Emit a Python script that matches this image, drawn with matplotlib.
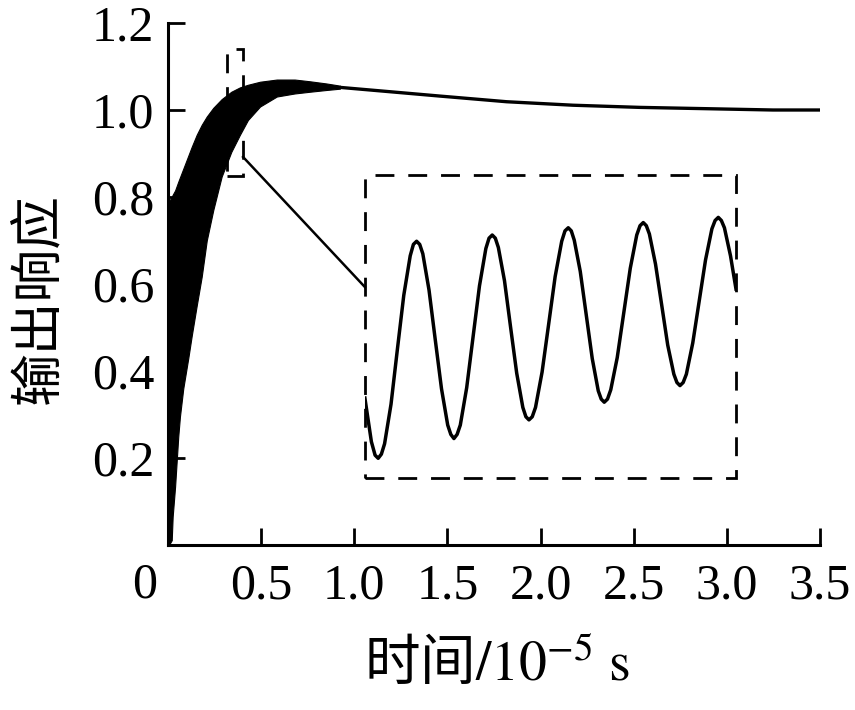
import matplotlib
matplotlib.use('Agg')
import matplotlib.pyplot as plt
from matplotlib.patches import Rectangle

# ---------------- data ----------------
# dense-oscillation band at the start of the response (envelopes)
band_t = [0.0, 0.005, 0.02, 0.025, 0.038, 0.055, 0.064, 0.082, 0.109, 0.127,
          0.154, 0.181, 0.208, 0.243, 0.288, 0.34, 0.386, 0.429, 0.494, 0.584,
          0.68, 0.762, 0.85, 0.923]
band_low = [0.0, 0.0, 0.011, 0.065, 0.134, 0.249, 0.295, 0.36, 0.43, 0.48,
            0.55, 0.617, 0.700, 0.770, 0.847, 0.904, 0.943, 0.977, 1.008, 1.031,
            1.038, 1.042, 1.046, 1.049]
band_high = [0.0, 0.79, 0.80, 0.805, 0.815, 0.835, 0.845, 0.865, 0.895, 0.915,
             0.943, 0.966, 0.985, 1.005, 1.025, 1.042, 1.052, 1.058, 1.065, 1.070,
             1.070, 1.066, 1.061, 1.056]
# smooth tail of the response
tail_t = [0.923, 1.192, 1.460, 1.818, 2.174, 2.534, 2.892, 3.247, 3.5]
tail_y = [1.052, 1.042, 1.032, 1.019, 1.011, 1.006, 1.003, 1.000, 1.000]

# zoomed region (small dashed box) and where its enlargement is drawn
zoom_t = [0.317, 0.403]
zoom_y = [0.848, 1.140]
inset_t = [1.057, 3.049]
inset_y = [0.154, 0.851]

# waveform seen inside the enlargement (in the zoomed units)
wave_t = [0.3170, 0.3185, 0.31936, 0.32008, 0.32082,
          0.32156, 0.32305, 0.32453, 0.32601, 0.32750, 0.32824, 0.32898, 0.32970,
          0.33042, 0.33186, 0.33331, 0.33475, 0.33619, 0.33691, 0.33763, 0.33837,
          0.33911, 0.34059, 0.34207, 0.34355, 0.34503, 0.34577, 0.34651, 0.34722,
          0.34793, 0.34935, 0.35077, 0.35218, 0.35360, 0.35431, 0.35502, 0.35578,
          0.35654, 0.35806, 0.35958, 0.36109, 0.36261, 0.36337, 0.36413, 0.36483,
          0.36552, 0.36691, 0.36830, 0.36969, 0.37108, 0.37177, 0.37247, 0.37322,
          0.37398, 0.37548, 0.37699, 0.37850, 0.38000, 0.38076, 0.38151, 0.38222,
          0.38293, 0.38435, 0.38577, 0.38718, 0.38860, 0.38931, 0.39002, 0.39076,
          0.39150, 0.39298, 0.39446, 0.39594, 0.39742, 0.39816, 0.39890, 0.39961,
          0.40032, 0.40173, 0.4030]
wave_y = [0.925, 0.883, 0.870, 0.867, 0.871,
          0.881, 0.919, 0.972, 1.024, 1.062, 1.073, 1.076, 1.073,
          1.064, 1.029, 0.981, 0.934, 0.899, 0.890, 0.886, 0.890,
          0.899, 0.935, 0.984, 1.033, 1.069, 1.079, 1.082, 1.079,
          1.070, 1.038, 0.993, 0.949, 0.916, 0.907, 0.904, 0.907,
          0.916, 0.950, 0.996, 1.042, 1.076, 1.086, 1.089, 1.086,
          1.077, 1.047, 1.005, 0.963, 0.932, 0.924, 0.921, 0.924,
          0.933, 0.964, 1.007, 1.050, 1.082, 1.091, 1.094, 1.091,
          1.083, 1.054, 1.015, 0.976, 0.948, 0.940, 0.937, 0.940,
          0.948, 0.978, 1.018, 1.058, 1.088, 1.096, 1.099, 1.096,
          1.089, 1.062, 1.030]

# connector from the small box to the enlargement
link_t = [0.403, 1.057]
link_y = [0.892, 0.593]

xticks = [0.5, 1.0, 1.5, 2.0, 2.5, 3.0, 3.5]
xtick_labels = ['0.5', '1.0', '1.5', '2.0', '2.5', '3.0', '3.5']
yticks = [0.2, 0.4, 0.6, 0.8, 1.0, 1.2]
ytick_labels = ['0.2', '0.4', '0.6', '0.8', '1.0', '1.2']
xlabel = '时间$/10^{-5}\\ \\mathrm{s}$'
ylabel = '输出响应'

# ---------------- figure ----------------
plt.rcParams['font.family'] = ['Liberation Serif', 'Noto Sans CJK SC', 'DejaVu Serif']
plt.rcParams['mathtext.fontset'] = 'stix'

fig = plt.figure(figsize=(8.55, 7.10), dpi=100)
ax = fig.add_axes([168/855, 1-545/710, 652/855, 522/710])

ax.fill_between(band_t, band_low, band_high, color='black', lw=0.8, edgecolor='black')
ax.plot(tail_t, tail_y, color='black', lw=2.4, solid_capstyle='butt')

dash = (0, (6.8, 5))
ax.add_patch(Rectangle((zoom_t[0], zoom_y[0]), zoom_t[1]-zoom_t[0], zoom_y[1]-zoom_y[0],
                       fill=False, edgecolor='black', lw=2.0, linestyle=dash))
ax.plot(link_t, link_y, color='black', lw=1.8)

axins = ax.inset_axes([inset_t[0], inset_y[0], inset_t[1]-inset_t[0], inset_y[1]-inset_y[0]],
                      transform=ax.transData)
axins.set_xlim(zoom_t)
axins.set_ylim(zoom_y)
axins.plot(wave_t, wave_y, color='black', lw=2.5, solid_joinstyle='round')
axins.set_xticks([])
axins.set_yticks([])
for s in axins.spines.values():
    s.set_visible(False)
axins.patch.set_alpha(0)
axins.add_patch(Rectangle((0, 0), 1, 1, transform=axins.transAxes, fill=False,
                          edgecolor='black', lw=2.0, linestyle=dash, clip_on=False))

ax.set_xlim(0, 3.5)
ax.set_ylim(0, 1.2)
ax.spines['top'].set_visible(False)
ax.spines['right'].set_visible(False)
for s in ('left', 'bottom'):
    ax.spines[s].set_linewidth(2.2)
ax.set_xticks(xticks)
ax.set_xticklabels(xtick_labels)
ax.set_yticks(yticks)
ax.set_yticklabels(ytick_labels)
ax.tick_params(axis='both', direction='in', length=12, width=2.0, labelsize=36)
ax.tick_params(axis='x', pad=13)
ax.tick_params(axis='y', pad=10)

ax.annotate('0', xy=(0, 0), xytext=(-23, -40), textcoords='offset pixels',
            ha='center', va='center', fontsize=36)

ax.set_xlabel(xlabel, fontsize=40, va='center', family='Noto Sans CJK SC')
ax.xaxis.set_label_coords(0.505, -0.23)
ax.set_ylabel(ylabel, fontsize=38, va='center', ha='center')
ax.yaxis.set_label_coords(-0.196, 0.473)

fig.savefig('out.png', dpi=100)
